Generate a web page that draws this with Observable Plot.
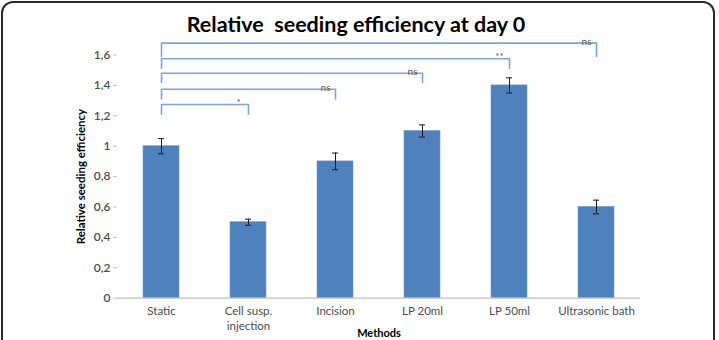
<!DOCTYPE html>
<html>
<head>
<meta charset="utf-8">
<script src="https://cdn.jsdelivr.net/npm/d3@7"></script>
<script src="https://cdn.jsdelivr.net/npm/@observablehq/plot@0.6"></script>
<style>
  html, body { margin: 0; padding: 0; background: #fff; }
  #wrap { position: relative; width: 719px; height: 340px; overflow: hidden; background: #fff; }
  #frame { position: absolute; left: 1px; top: 1px; width: 714px; height: 420px;
           border: 2px solid #2b2b2b; border-radius: 12px; box-sizing: border-box; }
  #chart { position: absolute; left: 0; top: 0; }
  #chart svg { background: transparent; }
</style>
</head>
<body>
<div id="wrap"><div id="frame"></div><div id="chart"></div></div>
<script>
// ---- data ----
const methods = ["Static", "Cell susp.\ninjection", "Incision", "LP 20ml", "LP 50ml", "Ultrasonic bath"];
const efficiency = [1.0, 0.5, 0.9, 1.1, 1.4, 0.6];
const errors = [0.05, 0.02, 0.055, 0.04, 0.05, 0.045];
const yTicks = [0, 0.2, 0.4, 0.6, 0.8, 1.0, 1.2, 1.4, 1.6];

// significance brackets (all vs. Static)
const reference = "Static";
const compared = ["Cell susp.\ninjection", "Incision", "LP 20ml", "LP 50ml", "Ultrasonic bath"];
const sigLabels = ["*", "ns", "ns", "**", "ns"];
const bracketTop = [1.274, 1.375, 1.48, 1.575, 1.678];
const bracketEnd = [1.21, 1.31, 1.419, 1.511, 1.592];

const title = "Relative  seeding efficiency at day 0";
const yLabel = "Relative seeding efficiency";
const xLabel = "Methods";

// ---- tables ----
const bars = methods.map((m, i) => ({method: m, value: efficiency[i], lo: efficiency[i] - errors[i], hi: efficiency[i] + errors[i]}));
const bracketPts = [];
compared.forEach((c, i) => {
  bracketPts.push({k: i, x: reference, y: bracketEnd[i]});
  bracketPts.push({k: i, x: reference, y: bracketTop[i]});
  bracketPts.push({k: i, x: c, y: bracketTop[i]});
  bracketPts.push({k: i, x: c, y: bracketEnd[i]});
});
const bracketLabels = compared.map((c, i) => ({x: c, y: bracketTop[i], label: sigLabels[i]}));

const fmt = d => String(+d.toFixed(1)).replace(".", ",");

const chart = Plot.plot({
  width: 719,
  height: 340,
  marginLeft: 117,
  marginRight: 79,
  marginTop: 54.5,
  marginBottom: 42.3,
  style: {fontFamily: "Lato, 'Open Sans', sans-serif", fontSize: "11px", overflow: "visible", background: "transparent"},
  x: {domain: methods, type: "band", paddingInner: 0.59, paddingOuter: 0.295, axis: null},
  y: {domain: [0, 1.6], axis: null},
  marks: [
    Plot.barY(bars, {x: "method", y: "value", fill: "#4f81bd", stroke: "#6f9ad0", strokeWidth: 0.6}),
    Plot.ruleY([0], {stroke: "#bfbfbf", strokeWidth: 1.2}),
    Plot.axisY({ticks: yTicks, tickFormat: fmt, tickSize: 4, tickPadding: 3, stroke: "#bfbfbf", fill: "#4d4d4d",
                fontSize: 12, fontWeight: 600, line: true, label: null}),
    Plot.axisX({tickSize: 0, tickPadding: 6, fill: "#4d4d4d", fontSize: 11.5, lineHeight: 1.3, label: null}),
    Plot.ruleX(bars, {x: "method", y1: "lo", y2: "hi", stroke: "#1a1a1a", strokeWidth: 1}),
    Plot.tickY(bars, {x: "method", y: "lo", stroke: "#1a1a1a", strokeWidth: 1, insetLeft: 15, insetRight: 15}),
    Plot.tickY(bars, {x: "method", y: "hi", stroke: "#1a1a1a", strokeWidth: 1, insetLeft: 15, insetRight: 15}),
    Plot.line(bracketPts, {x: "x", y: "y", z: "k", stroke: "#7ea3d8", strokeWidth: 1.6, curve: "linear"}),
    Plot.text(bracketLabels, {x: "x", y: "y", text: "label", lineAnchor: "bottom", dx: -10, dy: 1.5, fill: "#595959", fontSize: 10}),
    Plot.text([title], {frameAnchor: "top", dx: -23, dy: -30, lineAnchor: "middle", fontSize: 21.5, fontWeight: "bold", fill: "#000",
                        fontFamily: "Lato, sans-serif"}),
    Plot.text([yLabel], {frameAnchor: "left", textAnchor: "middle", rotate: -90, dx: -36, fontSize: 11.5, fontWeight: "bold", fill: "#000"}),
    Plot.text([xLabel], {frameAnchor: "bottom", dy: 35.5, lineAnchor: "middle", fontSize: 11, fontWeight: "bold", fill: "#000"})
  ]
});
chart.querySelectorAll("text").forEach(t => t.style.whiteSpace = "pre");
document.getElementById("chart").appendChild(chart);
</script>
</body>
</html>
